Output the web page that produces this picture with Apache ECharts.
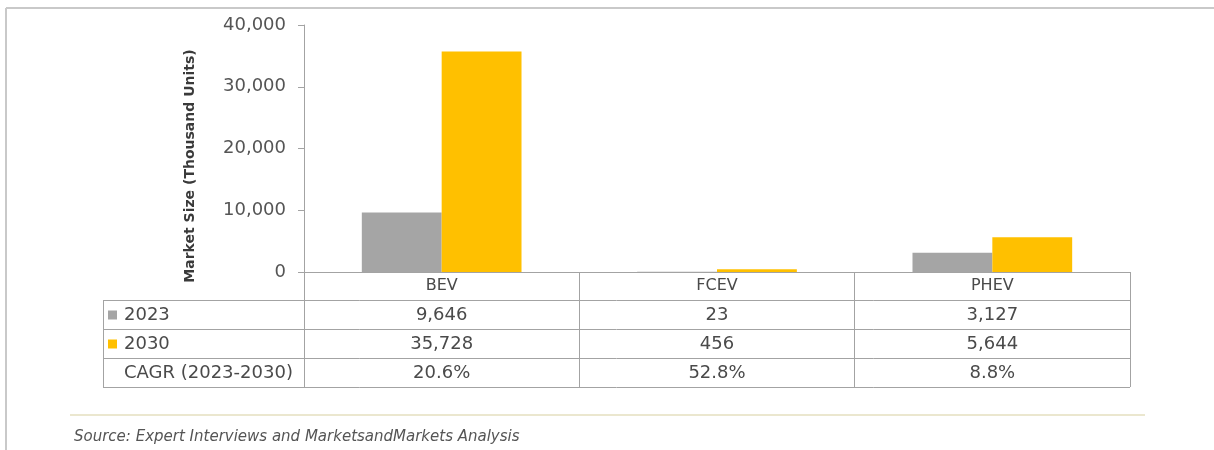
<!DOCTYPE html>
<html>
<head>
<meta charset="utf-8">
<script src="https://cdn.jsdelivr.net/npm/echarts@6/dist/echarts.min.js"></script>
<style>
  html, body { margin: 0; padding: 0; background: #fff; }
  #chart { width: 1214px; height: 450px; }
</style>
</head>
<body>
<div id="chart"></div>
<script>
const categories = ["BEV", "FCEV", "PHEV"];
const seriesNames = ["2023", "2030"];
const values2023 = [9646, 23, 3127];
const values2030 = [35728, 456, 5644];
const cagrLabel = "CAGR (2023-2030)";
const cagrValues = ["20.6%", "52.8%", "8.8%"];
const yTicks = [0, 10000, 20000, 30000, 40000];

const colors = ["#a5a5a5", "#ffc000"];
const lineColor = "#a3a3a3";
const textColor = "#4a4a4a";
const font = "DejaVu Sans";

const fmt = (v) => v.toLocaleString("en-US");

const chartDom = document.getElementById("chart");
const myChart = echarts.init(chartDom);

const option = {
  backgroundColor: "#fff",
  animation: false,
  grid: { left: 304, right: 84, top: 25, bottom: 178, containLabel: false },
  xAxis: {
    type: "category",
    data: categories,
    axisLine: { show: true, lineStyle: { color: lineColor, width: 1 } },
    axisTick: { show: true, length: 115, interval: 0, lineStyle: { color: lineColor, width: 1 } },
    axisLabel: { margin: 6, fontFamily: font, fontSize: 16, color: textColor },
  },
  yAxis: {
    type: "value",
    min: yTicks[0],
    max: yTicks[yTicks.length - 1],
    interval: 10000,
    axisLine: { show: true, lineStyle: { color: lineColor, width: 1 } },
    axisTick: { show: true, length: 6, lineStyle: { color: lineColor } },
    splitLine: { show: false },
    axisLabel: { margin: 18, fontFamily: font, fontSize: 18, color: "#555", formatter: fmt },
  },
  series: [
    {
      name: seriesNames[0],
      type: "bar",
      data: values2023,
      barGap: "0%",
      barCategoryGap: "42%",
      itemStyle: { color: colors[0] },
    },
    {
      name: seriesNames[1],
      type: "bar",
      data: values2030,
      barGap: "0%",
      barCategoryGap: "42%",
      itemStyle: { color: colors[1] },
    },
  ],
};
myChart.setOption(option);

// data table under the axis, placed at the category centres of the x axis
const buildTable = () => {
  const rowLines = [300, 329, 358, 387];
  const tableLeft = 103;
  const tableRight = myChart.convertToPixel({ xAxisIndex: 0 }, categories[categories.length - 1]) +
    (myChart.convertToPixel({ xAxisIndex: 0 }, categories[1]) - myChart.convertToPixel({ xAxisIndex: 0 }, categories[0])) / 2;
  const els = [];

  // frame round the figure
  els.push({ type: "line", shape: { x1: 6, y1: 8, x2: 1214, y2: 8 }, style: { stroke: "#c9c9c9", lineWidth: 2 } });
  els.push({ type: "line", shape: { x1: 6, y1: 8, x2: 6, y2: 450 }, style: { stroke: "#c9c9c9", lineWidth: 2 } });

  rowLines.forEach((y) => {
    els.push({ type: "line", shape: { x1: tableLeft, y1: y + 0.5, x2: tableRight, y2: y + 0.5 }, style: { stroke: lineColor, lineWidth: 1 } });
  });
  els.push({ type: "line", shape: { x1: tableLeft + 0.5, y1: rowLines[0], x2: tableLeft + 0.5, y2: rowLines[3] }, style: { stroke: lineColor, lineWidth: 1 } });

  const rows = [
    { label: seriesNames[0], color: colors[0], cells: values2023.map(fmt) },
    { label: seriesNames[1], color: colors[1], cells: values2030.map(fmt) },
    { label: cagrLabel, color: null, cells: cagrValues },
  ];
  rows.forEach((row, i) => {
    const cy = (rowLines[i] + rowLines[i + 1]) / 2 + 1;
    if (row.color) {
      els.push({ type: "rect", shape: { x: 108, y: cy - 5, width: 9, height: 9 }, style: { fill: row.color } });
    }
    els.push({
      type: "text", x: 124, y: cy,
      style: { text: row.label, fontFamily: font, fontSize: 18, fill: textColor, verticalAlign: "middle", align: "left" },
    });
    row.cells.forEach((c, j) => {
      const cx = myChart.convertToPixel({ xAxisIndex: 0 }, categories[j]);
      els.push({
        type: "text", x: cx, y: cy,
        style: { text: c, fontFamily: font, fontSize: 18, fill: textColor, verticalAlign: "middle", align: "center" },
      });
    });
  });

  // y axis title
  els.push({
    type: "text", x: 190, y: 166, rotation: Math.PI / 2,
    style: { text: "Market Size (Thousand Units)", fontFamily: font, fontWeight: "bold", fontSize: 14, fill: "#3a3a3a", align: "center", verticalAlign: "middle" },
  });

  // separator and source note
  els.push({ type: "line", shape: { x1: 70, y1: 415, x2: 1145, y2: 415 }, style: { stroke: "#ebe7cf", lineWidth: 2 } });
  els.push({
    type: "text", x: 74, y: 437,
    style: { text: "Source: Expert Interviews and MarketsandMarkets Analysis", fontFamily: font, fontStyle: "italic", fontSize: 15, fill: "#555", verticalAlign: "middle" },
  });

  myChart.setOption({ graphic: { elements: els } });
};
buildTable();
</script>
</body>
</html>
